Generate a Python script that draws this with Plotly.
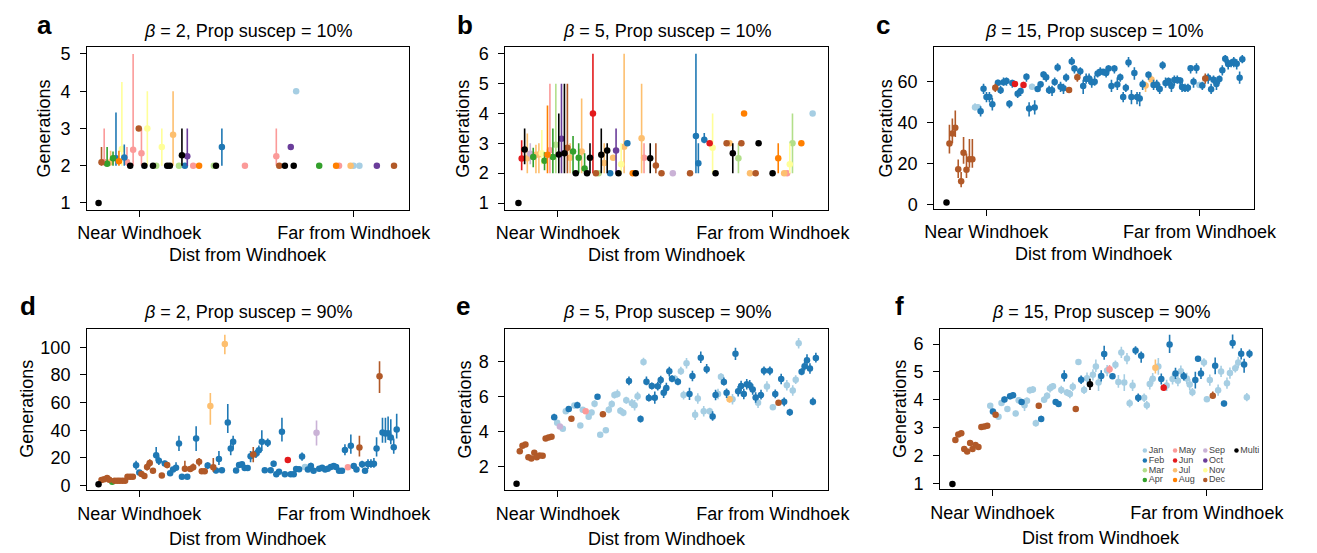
import plotly.graph_objects as go

W, H = 1317, 553
FONT = "Liberation Sans, Arial, Helvetica, sans-serif"

MONTHS = ["Jan", "Feb", "Mar", "Apr", "May", "Jun", "Jul", "Aug", "Sep", "Oct", "Nov", "Dec", "Multi"]
COLORS = ["#A6CEE3", "#1F78B4", "#B2DF8A", "#33A02C", "#FB9A99", "#E31A1C", "#FDBF6F",
          "#FF7F00", "#CAB2D6", "#6A3D9A", "#FFFF99", "#B15928", "#000000"]

TITLES = ["<i>β</i> = 2, Prop suscep = 10%", "<i>β</i> = 5, Prop suscep = 10%", "<i>β</i> = 15, Prop suscep = 10%",
          "<i>β</i> = 2, Prop suscep = 90%", "<i>β</i> = 5, Prop suscep = 90%", "<i>β</i> = 15, Prop suscep = 90%"]
LETTERS = ["a", "b", "c", "d", "e", "f"]
XTICKS = [20, 100]
XTICKTEXT = ["Near Windhoek", "Far from Windhoek"]
YTICKS = [[1, 2, 3, 4, 5], [1, 2, 3, 4, 5, 6], [0, 20, 40, 60], [0, 20, 40, 60, 80, 100], [2, 4, 6, 8], [1, 2, 3, 4, 5, 6]]

# ---------------- panel a ----------------
a_x = [4.8, 5.9, 6.9, 8.0, 9.3, 10.2, 11.3, 12.4, 13.5, 14.4,
       15.4, 16.6, 17.7, 19.8, 20.8, 21.9, 23.0, 25.1, 26.3, 28.4,
       30.4, 31.4, 32.6, 34.8, 35.9, 37.0, 37.9, 40.1, 42.3, 47.8,
       48.6, 50.8, 59.4, 71.1, 72.2, 74.3, 76.5, 77.6, 78.5, 87.1,
       93.4, 94.5, 98.8, 99.9, 102.1, 108.6, 115.0]
a_y = [1.0, 2.09, 2.1, 2.05, 2.1, 2.2, 2.2, 2.12, 2.45, 2.22,
       2.1, 2.0, 2.43, 3.0, 2.33, 2.0, 3.0, 2.0, 2.0, 2.5,
       2.0, 2.0, 2.83, 2.0, 2.28, 2.0, 2.25, 2.0, 2.0, 2.0,
       2.0, 2.5, 2.0, 2.25, 2.0, 2.0, 2.5, 2.0, 4.0, 2.0,
       2.0, 2.0, 2.0, 2.0, 2.0, 2.0, 2.0]
a_lo = [1.0, 2.0, 2.0, 2.0, 2.0, 2.0, 2.0, 2.0, 2.0, 2.0,
        2.0, 2.0, 2.0, 3.0, 2.0, 2.0, 2.0, 2.0, 2.0, 2.0,
        2.0, 2.0, 2.0, 2.0, 2.0, 2.0, 2.0, 2.0, 2.0, 2.0,
        2.0, 2.0, 2.0, 2.0, 2.0, 2.0, 2.5, 2.0, 4.0, 2.0,
        2.0, 2.0, 2.0, 2.0, 2.0, 2.0, 2.0]
a_hi = [1.0, 2.5, 3.0, 2.5, 2.4, 2.38, 3.43, 2.4, 4.25, 2.57,
        2.5, 2.0, 5.0, 3.0, 3.0, 2.0, 4.0, 2.0, 2.0, 3.0,
        2.0, 2.0, 4.0, 2.0, 3.0, 2.0, 3.0, 2.0, 2.0, 2.0,
        2.0, 3.0, 2.0, 3.0, 2.0, 2.0, 2.5, 2.0, 4.0, 2.0,
        2.0, 2.0, 2.0, 2.0, 2.0, 2.0, 2.0]
a_m = [13, 12, 5, 4, 7, 4, 2, 8, 11, 2,
       5, 13, 5, 12, 5, 13, 11, 13, 3, 11,
       13, 13, 7, 3, 13, 2, 10, 5, 8, 3,
       13, 2, 5, 5, 12, 13, 10, 13, 1, 4,
       8, 5, 7, 1, 1, 10, 12]

# ---------------- panel b ----------------
b_x = [5.4, 6.6, 7.7, 8.7, 9.8, 10.9, 11.9, 13.0, 14.1, 15.1,
       16.2, 17.1, 18.2, 19.3, 20.4, 21.4, 22.5, 23.6, 24.6, 25.7,
       26.7, 27.8, 28.9, 30.0, 30.9, 32.0, 33.1, 34.2, 35.2, 36.2,
       37.3, 38.4, 39.5, 40.6, 41.7, 42.6, 43.6, 44.7, 45.9, 47.9,
       49.0, 51.2, 52.1, 54.4, 56.5, 58.6, 62.8, 69.2, 71.4, 72.3,
       74.5, 76.5, 77.6, 78.7, 82.8, 83.9, 85.1, 87.2, 88.3, 89.3,
       91.5, 93.6, 94.7, 99.9, 102.0, 104.2, 105.3, 106.3, 107.3, 110.6,
       114.8]
b_y = [1.0, 2.49, 2.79, 2.5, 2.65, 2.54, 2.62, 2.63, 2.67, 2.42,
       2.62, 2.77, 2.54, 2.95, 2.63, 3.15, 2.67, 2.85, 2.52, 2.73,
       2.0, 2.52, 2.73, 2.16, 2.0, 2.52, 4.0, 2.0, 2.0, 2.62,
       2.34, 2.76, 2.0, 2.52, 2.76, 2.0, 2.3, 2.89, 3.0, 2.0,
       2.0, 3.17, 2.52, 2.5, 2.26, 2.0, 2.0, 2.0, 3.25, 2.33,
       3.12, 3.0, 2.85, 2.0, 3.0, 3.0, 2.67, 2.5, 3.0, 4.0,
       2.0, 2.0, 3.0, 2.0, 2.5, 2.0, 2.0, 2.3, 3.0, 3.0,
       4.0]
b_lo = [1.0, 2.1, 2.3, 2.0, 2.3, 2.2, 2.0, 2.0, 2.3, 2.1,
        2.0, 2.0, 2.0, 2.0, 2.0, 2.0, 2.0, 2.0, 2.0, 2.0,
        2.0, 2.0, 2.0, 2.0, 2.0, 2.0, 2.0, 2.0, 2.0, 2.0,
        2.0, 2.0, 2.0, 2.52, 2.0, 2.0, 2.0, 2.0, 3.0, 2.0,
        2.0, 2.0, 2.0, 2.0, 2.0, 2.0, 2.0, 2.0, 2.0, 2.0,
        3.0, 3.0, 2.0, 2.0, 3.0, 3.0, 2.0, 2.0, 3.0, 4.0,
        2.0, 2.0, 3.0, 2.0, 2.0, 2.0, 2.0, 2.0, 2.0, 3.0,
        4.0]
b_hi = [1.0, 3.1, 3.5, 3.33, 3.0, 2.85, 2.95, 3.0, 3.45, 2.7,
        4.27, 5.0, 3.5, 5.0, 4.0, 5.0, 5.0, 5.0, 3.0, 3.25,
        2.0, 3.0, 4.5, 2.67, 2.0, 3.0, 6.0, 2.0, 2.0, 3.5,
        3.0, 3.0, 2.0, 2.52, 3.5, 2.0, 3.0, 6.0, 3.0, 2.0,
        2.0, 5.0, 3.0, 3.0, 3.0, 2.0, 2.0, 2.0, 6.0, 3.0,
        3.35, 3.0, 4.0, 2.0, 3.0, 3.0, 3.0, 3.0, 3.0, 4.0,
        2.0, 2.0, 3.0, 2.0, 3.0, 2.0, 2.0, 3.0, 4.0, 3.0,
        4.0]
b_m = [13, 6, 13, 7, 9, 4, 7, 7, 11, 4,
       8, 5, 4, 3, 13, 10, 13, 12, 7, 4,
       13, 4, 7, 4, 13, 13, 6, 12, 3, 13,
       7, 13, 2, 7, 10, 13, 11, 7, 2, 8,
       13, 7, 5, 13, 12, 12, 9, 12, 2, 2,
       2, 6, 11, 13, 12, 7, 13, 3, 12, 8,
       7, 12, 13, 13, 8, 7, 5, 11, 3, 8,
       1]

# ---------------- panel c ----------------
c_x = [5.1, 6.2, 7.3, 8.4, 9.5, 10.6, 11.5, 12.6, 13.7, 14.8,
       15.8, 16.9, 17.9, 19.0, 20.1, 21.2, 22.3, 23.4, 24.4, 25.4,
       26.5, 27.6, 28.7, 29.8, 30.8, 31.8, 32.9, 34.0, 35.1, 36.1,
       37.2, 38.2, 39.3, 40.4, 41.5, 42.5, 43.6, 44.7, 45.7, 46.8,
       47.9, 49.0, 50.0, 51.1, 52.1, 53.1, 54.2, 55.3, 56.4, 57.5,
       58.6, 59.6, 60.7, 61.8, 62.8, 63.9, 65.0, 65.9, 67.0, 68.1,
       69.2, 70.3, 71.4, 72.4, 73.4, 74.5, 75.6, 76.6, 77.6, 78.7,
       79.8, 80.9, 82.0, 82.8, 84.0, 85.1, 86.2, 87.3, 88.4, 89.5,
       90.6, 91.7, 92.8, 93.5, 94.6, 95.7, 96.7, 97.8, 98.9, 100.0,
       101.1, 102.2, 103.3, 104.4, 105.3, 106.4, 107.5, 108.6, 109.7, 110.8,
       111.9, 112.9, 114.0, 115.1, 116.1]
c_y = [1.1, 29.9, 34.7, 37.6, 17.3, 11.4, 25.3, 17.1, 22.2, 22.2,
       47.5, 47.5, 45.6, 56.6, 52.6, 52.6, 49.0, 57.0, 59.5, 55.8,
       59.7, 60.3, 49.3, 59.4, 58.9, 54.1, 55.5, 58.4, 62.4, 46.9,
       57.6, 47.4, 56.5, 58.7, 63.5, 62.2, 55.8, 55.8, 59.8, 66.9,
       57.6, 56.8, 62.1, 56.0, 69.9, 66.4, 62.2, 65.1, 57.9, 61.3,
       61.6, 59.7, 60.0, 64.0, 64.8, 64.8, 64.3, 66.4, 57.9, 66.4,
       58.6, 62.2, 52.5, 57.1, 69.4, 52.6, 64.3, 52.6, 51.8, 58.7,
       58.1, 63.4, 61.1, 58.4, 58.6, 56.5, 68.0, 59.4, 60.3, 57.9,
       60.8, 60.8, 60.6, 57.4, 56.8, 57.0, 66.6, 60.0, 66.7, 58.4,
       58.1, 61.6, 61.9, 56.3, 61.0, 58.9, 61.3, 65.6, 71.2, 68.6,
       69.1, 69.9, 68.8, 61.9, 70.9]
c_lo = [1.1, 25, 30, 33, 13, 8.5, 20, 13, 18, 18,
        46, 46, 43, 54, 50, 50, 46, 55, 58, 54,
        58, 58, 47, 57, 57.5, 52, 53, 57, 60, 43,
        56, 44, 55, 57, 61, 60, 54, 53, 58, 65,
        55, 54, 60, 55, 68, 64, 60, 63, 54, 59,
        59, 57, 58, 62, 63, 63, 62, 64, 55, 64,
        56, 60, 50, 55, 67, 49, 61, 49, 48, 56,
        55, 61, 59, 56, 56, 54, 66, 57, 58, 55,
        58, 59, 58, 55, 55, 55, 64, 57, 64, 57,
        56, 59, 59, 54, 59, 56, 59, 63, 69, 66,
        67, 67, 66, 59, 69]
c_hi = [1.1, 39, 42, 46, 22, 16, 33, 25, 32, 32,
        49.5, 49, 48, 59, 55, 55, 52, 59, 61, 58,
        62, 62, 51, 61, 60, 56, 57, 60, 64, 50,
        59, 51, 58, 60, 65, 64, 58, 58, 62, 69,
        60, 59, 64, 57, 72, 68, 64, 67, 61, 64,
        64, 62, 63, 66, 67, 66, 66, 68, 61, 68,
        62, 64, 55, 59, 72, 56, 67, 55, 55, 61,
        60, 65, 63, 61, 61, 59, 70, 62, 62, 60,
        63, 63, 62, 60, 59, 59, 68, 62, 69, 60,
        60, 64, 64, 59, 63, 61, 63, 68, 73, 71,
        71, 72, 71, 65, 73]
c_m = [13, 12, 12, 12, 12, 12, 12, 12, 12, 12,
       1, 1, 2, 2, 2, 2, 2, 12, 2, 2,
       2, 2, 2, 2, 6, 2, 2, 6, 2, 2,
       1, 2, 2, 2, 2, 2, 2, 2, 2, 2,
       2, 2, 2, 12, 2, 2, 12, 2, 2, 2,
       2, 2, 2, 2, 2, 2, 2, 2, 2, 2,
       2, 2, 2, 2, 2, 2, 2, 2, 2, 2,
       7, 2, 7, 2, 2, 2, 2, 2, 2, 2,
       2, 2, 2, 2, 2, 2, 2, 2, 2, 1,
       2, 12, 2, 2, 2, 2, 2, 2, 2, 2,
       2, 2, 2, 2, 2]

# ---------------- panel d ----------------
d_x = [4.8, 5.9, 6.9, 8.0, 8.8, 9.9, 10.8, 11.8, 12.7, 13.7,
       14.7, 15.6, 16.6, 17.6, 18.8, 20.0, 20.8, 21.9, 22.9, 23.9,
       25.1, 26.3, 27.3, 28.4, 29.5, 30.4, 31.5, 32.6, 33.7, 34.8,
       35.9, 37.0, 37.9, 39.0, 40.1, 41.2, 42.3, 43.3, 44.4, 45.5,
       46.5, 47.6, 48.6, 49.7, 50.8, 51.9, 53.0, 54.1, 55.0, 56.1,
       57.2, 58.3, 59.3, 60.4, 61.5, 62.5, 63.5, 64.6, 65.7, 66.8,
       67.9, 69.0, 70.1, 71.1, 72.1, 73.2, 74.3, 75.4, 76.5, 77.6,
       78.5, 79.6, 80.7, 81.8, 82.9, 84.0, 85.0, 86.1, 87.1, 88.2,
       89.3, 90.3, 91.4, 92.5, 93.4, 94.5, 95.6, 96.7, 97.8, 98.9,
       100.0, 101.0, 102.1, 103.1, 104.2, 105.3, 106.4, 107.5, 108.5, 109.6,
       110.7, 111.8, 112.8, 113.8, 114.9, 116.0]
d_y = [1.0, 4.0, 4.7, 5.5, 4.3, 2.8, 3.6, 3.6, 3.6, 3.6,
       3.6, 6.4, 6.4, 6.4, 14.7, 9.5, 8.5, 6.9, 13.5, 16.4,
       10.7, 22.0, 18.0, 7.3, 16.0, 15.0, 9.0, 11.6, 13.0, 30.5,
       6.4, 12.3, 6.4, 12.0, 13.3, 34.0, 17.3, 10.4, 10.4, 14.5,
       57.6, 13.3, 10.9, 19.2, 11.1, 102.4, 45.7, 26.8, 31.8, 10.9,
       14.9, 15.4, 12.8, 12.8, 21.3, 22.5, 23.0, 25.6, 31.8, 11.1,
       31.0, 11.1, 15.9, 8.3, 10.0, 38.9, 8.3, 18.5, 8.3, 8.3,
       12.1, 11.8, 21.1, 13.5, 11.6, 14.2, 10.7, 38.2, 12.3, 13.0,
       11.6, 12.3, 13.5, 14.2, 13.5, 10.7, 10.7, 25.8, 13.3, 28.9,
       14.2, 11.6, 27.5, 15.4, 10.7, 15.6, 15.6, 15.9, 26.8, 79.1,
       38.4, 37.7, 37.9, 34.8, 27.7, 40.5]
d_lo = [1.0, 3.5, 4.0, 4.5, 3.5, 2.3, 3.0, 3.0, 3.0, 3.0,
        3.0, 5.0, 5.0, 5.0, 11.5, 8.0, 7.0, 5.5, 11.0, 13.5,
        9.0, 18.0, 15.0, 6.0, 13.5, 12.5, 7.5, 10.0, 11.0, 25.0,
        5.5, 10.0, 5.5, 10.0, 11.0, 25.0, 14.0, 9.0, 9.0, 12.0,
        44.0, 10.0, 9.0, 15.0, 9.5, 95.0, 38.0, 22.0, 27.0, 9.5,
        13.0, 13.0, 11.0, 11.0, 17.0, 17.0, 20.0, 22.0, 25.0, 9.5,
        28.0, 9.5, 13.5, 7.0, 8.5, 32.0, 7.0, 17.0, 7.0, 7.0,
        10.5, 10.5, 18.0, 12.0, 10.0, 12.0, 9.5, 29.0, 10.5, 11.0,
        10.0, 10.5, 12.0, 12.5, 12.0, 9.5, 9.5, 22.0, 12.0, 23.0,
        12.0, 10.0, 21.0, 13.0, 9.5, 12.0, 13.0, 13.0, 21.0, 67.0,
        31.0, 31.0, 33.0, 30.0, 23.0, 34.0]
d_hi = [1.0, 4.5, 5.5, 6.5, 5.0, 3.3, 4.2, 4.2, 4.2, 4.2,
        4.2, 8.5, 8.0, 8.0, 18.0, 11.0, 10.0, 8.5, 16.5, 19.0,
        12.5, 28.0, 21.0, 8.5, 18.0, 17.0, 10.5, 13.5, 17.0, 36.0,
        7.5, 18.0, 7.5, 14.0, 16.0, 43.0, 20.0, 12.0, 12.0, 17.0,
        67.0, 20.0, 12.5, 25.0, 13.0, 109.0, 59.0, 31.0, 36.0, 12.5,
        17.0, 17.0, 14.5, 14.5, 25.0, 28.0, 26.0, 29.0, 40.0, 12.5,
        34.0, 12.5, 18.0, 9.5, 11.5, 49.0, 9.5, 20.0, 9.5, 9.5,
        13.5, 13.0, 24.0, 15.0, 13.0, 16.5, 12.0, 47.0, 14.0, 14.5,
        13.0, 14.0, 15.0, 16.0, 15.0, 12.0, 12.0, 30.0, 14.5, 37.0,
        16.0, 13.0, 36.0, 18.0, 12.0, 19.0, 19.0, 20.0, 35.0, 90.0,
        49.0, 49.0, 50.0, 48.0, 34.0, 52.0]
d_m = [13, 12, 12, 12, 12, 4, 12, 12, 12, 12,
       12, 12, 12, 12, 2, 2, 12, 12, 12, 12,
       12, 2, 2, 12, 2, 12, 2, 2, 2, 2,
       2, 12, 2, 12, 12, 2, 12, 12, 12, 2,
       7, 12, 2, 2, 2, 7, 2, 2, 2, 2,
       2, 2, 2, 2, 2, 12, 2, 2, 2, 2,
       2, 2, 2, 2, 2, 2, 2, 6, 2, 2,
       2, 2, 2, 1, 2, 2, 2, 9, 2, 2,
       2, 2, 2, 2, 2, 2, 2, 2, 5, 2,
       2, 2, 12, 2, 2, 2, 2, 2, 2, 12,
       2, 2, 2, 2, 2, 2]

# ---------------- panel e ----------------
e_x = [4.7, 5.9, 6.9, 8.0, 9.1, 10.2, 11.3, 12.2, 13.3, 14.4,
       15.5, 16.6, 17.7, 18.7, 19.8, 20.8, 21.9, 23.0, 24.1, 25.1,
       26.2, 27.3, 28.4, 29.3, 30.4, 31.5, 32.6, 33.7, 34.8, 35.8,
       36.8, 37.9, 39.0, 40.1, 41.1, 42.2, 43.3, 44.4, 45.5, 46.5,
       47.6, 48.6, 49.7, 50.8, 51.9, 53.0, 53.9, 55.0, 56.1, 57.2,
       58.3, 59.4, 60.4, 61.5, 62.5, 63.6, 64.7, 65.8, 66.8, 67.9,
       69.0, 70.1, 71.1, 72.1, 73.2, 74.3, 75.4, 76.5, 77.6, 78.7,
       79.6, 80.7, 81.8, 82.8, 83.9, 85.0, 86.1, 87.1, 88.2, 89.2,
       90.3, 91.4, 92.5, 93.6, 94.5, 95.6, 96.7, 97.8, 98.9, 100.0,
       100.9, 102.1, 103.1, 104.2, 105.2, 106.3, 107.4, 108.5, 109.6, 110.7,
       111.8, 112.7, 113.8, 114.9, 116.0]
e_y = [1.0, 2.86, 3.18, 3.24, 2.52, 2.45, 2.77, 2.52, 2.62, 2.6,
       3.59, 3.65, 3.69, 4.81, 4.49, 4.27, 4.14, 5.15, 5.28, 4.72,
       5.47, 5.49, 4.33, 5.24, 5.15, 4.83, 5.08, 5.58, 5.98, 3.8,
       4.98, 4.06, 5.24, 5.56, 6.07, 6.14, 5.17, 5.06, 5.77, 6.88,
       5.6, 5.49, 6.01, 4.7, 7.96, 6.84, 5.9, 6.59, 5.92, 6.58,
       6.93, 6.2, 6.48, 7.44, 7.0, 7.0, 6.84, 7.44, 6.07, 7.89,
       6.14, 7.16, 4.94, 5.88, 8.21, 5.15, 7.55, 5.15, 4.85, 6.07,
       6.13, 7.12, 6.82, 6.2, 5.83, 5.84, 8.43, 6.29, 6.59, 6.13,
       6.69, 6.63, 6.39, 5.94, 5.64, 6.07, 7.46, 6.56, 7.46, 5.38,
       6.14, 5.64, 6.99, 5.69, 6.63, 5.09, 6.33, 6.95, 9.03, 7.4,
       7.72, 8.06, 7.59, 5.69, 8.19]
e_dn = [0, 0.08, 0.1, 0.1, 0.08, 0.08, 0.1, 0.08, 0.08, 0.08,
        0.1, 0.1, 0.1, 0.15, 0.1, 0.08, 0.1, 0.12, 0.12, 0.15,
        0.15, 0.15, 0.12, 0.15, 0.1, 0.15, 0.15, 0.2, 0.15, 0.12,
        0.15, 0.12, 0.2, 0.2, 0.2, 0.2, 0.2, 0.2, 0.2, 0.25,
        0.25, 0.3, 0.25, 0.2, 0.2, 0.2, 0.2, 0.2, 0.35, 0.25,
        0.25, 0.3, 0.3, 0.3, 0.2, 0.2, 0.2, 0.2, 0.25, 0.3,
        0.35, 0.3, 0.3, 0.3, 0.3, 0.3, 0.25, 0.2, 0.25, 0.3,
        0.3, 0.2, 0.2, 0.3, 0.2, 0.3, 0.35, 0.3, 0.3, 0.3,
        0.3, 0.25, 0.3, 0.3, 0.3, 0.25, 0.25, 0.3, 0.25, 0.15,
        0.25, 0.15, 0.3, 0.25, 0.3, 0.2, 0.3, 0.25, 0.3, 0.2,
        0.25, 0.35, 0.3, 0.2, 0.25]
e_up = [0, 0.1, 0.1, 0.12, 0.1, 0.08, 0.1, 0.1, 0.1, 0.1,
        0.12, 0.1, 0.12, 0.2, 0.12, 0.08, 0.1, 0.12, 0.15, 0.15,
        0.12, 0.2, 0.12, 0.15, 0.1, 0.2, 0.15, 0.2, 0.15, 0.15,
        0.15, 0.12, 0.2, 0.2, 0.2, 0.25, 0.2, 0.2, 0.2, 0.25,
        0.25, 0.3, 0.25, 0.2, 0.25, 0.3, 0.25, 0.2, 0.35, 0.25,
        0.25, 0.3, 0.3, 0.25, 0.2, 0.2, 0.2, 0.25, 0.25, 0.3,
        0.35, 0.3, 0.3, 0.3, 0.35, 0.3, 0.3, 0.2, 0.3, 0.3,
        0.3, 0.2, 0.25, 0.25, 0.2, 0.3, 0.35, 0.3, 0.3, 0.3,
        0.3, 0.3, 0.3, 0.3, 0.3, 0.3, 0.25, 0.3, 0.25, 0.15,
        0.25, 0.15, 0.3, 0.25, 0.3, 0.2, 0.3, 0.25, 0.3, 0.2,
        0.25, 0.35, 0.3, 0.25, 0.3]
e_m = [13, 12, 12, 12, 12, 12, 12, 12, 12, 12,
       12, 12, 12, 2, 1, 9, 1, 1, 2, 12,
       1, 2, 1, 1, 5, 1, 1, 1, 2, 1,
       12, 1, 1, 1, 1, 1, 1, 1, 1, 2,
       1, 1, 1, 2, 1, 2, 2, 2, 2, 2,
       2, 2, 2, 2, 2, 1, 2, 1, 1, 1,
       2, 2, 1, 1, 2, 1, 2, 1, 2, 2,
       1, 1, 2, 2, 7, 1, 2, 2, 2, 2,
       2, 2, 2, 2, 1, 2, 2, 1, 2, 1,
       2, 12, 2, 2, 1, 2, 1, 1, 1, 2,
       2, 2, 2, 2, 2]

# ---------------- panel f ----------------
f_x = [5.1, 6.2, 7.3, 8.4, 9.5, 10.6, 11.7, 12.6, 13.7, 14.8,
       15.9, 17.0, 18.1, 19.2, 20.2, 21.2, 22.3, 23.4, 24.5, 25.6,
       26.6, 27.7, 28.7, 29.8, 30.9, 32.0, 32.9, 34.0, 35.1, 36.2,
       37.3, 38.2, 39.3, 40.4, 41.5, 42.6, 43.6, 44.7, 45.7, 46.8,
       47.8, 48.9, 50.0, 51.1, 52.1, 53.1, 54.2, 55.3, 56.4, 57.5,
       58.6, 59.6, 60.6, 61.7, 62.8, 63.7, 64.8, 65.9, 67.0, 68.1,
       69.2, 70.2, 71.2, 72.3, 73.4, 74.4, 75.5, 76.6, 77.6, 78.7,
       79.8, 80.8, 81.9, 83.0, 83.9, 85.0, 86.1, 87.2, 88.3, 89.2,
       90.3, 91.4, 92.5, 93.6, 94.6, 95.7, 96.7, 97.8, 98.9, 100.0,
       101.1, 102.2, 103.1, 104.2, 105.3, 106.4, 107.5, 108.6, 109.6, 110.6,
       111.7, 112.8, 113.9, 114.9, 115.9]
f_y = [1.0, 2.57, 2.77, 2.81, 2.25, 2.16, 2.46, 2.25, 2.39, 2.32,
       3.03, 3.05, 3.08, 3.79, 3.59, 3.47, 3.4, 3.89, 4.02, 3.68,
       4.13, 4.17, 3.52, 3.99, 3.93, 3.81, 3.97, 4.35, 4.37, 3.17,
       3.79, 3.32, 4.01, 4.15, 4.42, 4.49, 3.93, 3.86, 4.36, 4.86,
       4.27, 4.21, 4.47, 3.68, 5.36, 4.72, 4.36, 4.78, 4.56, 4.9,
       5.2, 4.62, 4.86, 5.64, 5.05, 5.1, 4.85, 5.26, 4.64, 5.7,
       4.62, 5.48, 3.88, 4.52, 5.77, 4.08, 5.58, 4.08, 3.81, 4.57,
       4.76, 5.15, 5.2, 4.75, 4.44, 4.52, 5.98, 4.75, 4.95, 4.69,
       5.03, 4.85, 4.77, 4.55, 4.28, 4.71, 5.47, 4.95, 5.34, 4.03,
       4.71, 4.15, 5.22, 4.35, 5.02, 3.87, 4.6, 4.96, 6.04, 5.13,
       5.34, 5.65, 5.27, 4.1, 5.65]
f_dn = [0, 0.07, 0.07, 0.08, 0.06, 0.06, 0.08, 0.06, 0.07, 0.06,
        0.07, 0.07, 0.08, 0.1, 0.1, 0.08, 0.08, 0.1, 0.1, 0.1,
        0.1, 0.1, 0.1, 0.12, 0.1, 0.2, 0.1, 0.12, 0.12, 0.12,
        0.1, 0.1, 0.12, 0.12, 0.15, 0.12, 0.1, 0.1, 0.15, 0.2,
        0.12, 0.15, 0.15, 0.08, 0.1, 0.15, 0.15, 0.2, 0.2, 0.2,
        0.2, 0.3, 0.2, 0.2, 0.2, 0.15, 0.1, 0.15, 0.2, 0.2,
        0.3, 0.2, 0.15, 0.2, 0.15, 0.15, 0.25, 0.15, 0.15, 0.2,
        0.2, 0.2, 0.3, 0.2, 0.12, 0.2, 0.3, 0.2, 0.2, 0.2,
        0.2, 0.15, 0.2, 0.2, 0.15, 0.3, 0.1, 0.2, 0.15, 0.1,
        0.2, 0.1, 0.3, 0.2, 0.2, 0.1, 0.2, 0.2, 0.2, 0.15,
        0.2, 0.2, 0.3, 0.15, 0.15]
f_up = [0, 0.07, 0.08, 0.08, 0.06, 0.06, 0.08, 0.06, 0.07, 0.06,
        0.07, 0.07, 0.08, 0.1, 0.1, 0.08, 0.08, 0.1, 0.1, 0.1,
        0.1, 0.1, 0.1, 0.12, 0.1, 0.15, 0.12, 0.12, 0.12, 0.12,
        0.1, 0.12, 0.12, 0.12, 0.15, 0.12, 0.1, 0.1, 0.15, 0.2,
        0.12, 0.15, 0.15, 0.08, 0.1, 0.15, 0.15, 0.2, 0.2, 0.2,
        0.25, 0.3, 0.2, 0.3, 0.2, 0.15, 0.1, 0.15, 0.25, 0.2,
        0.3, 0.2, 0.15, 0.2, 0.15, 0.15, 0.15, 0.15, 0.15, 0.2,
        0.2, 0.3, 0.3, 0.2, 0.12, 0.2, 0.35, 0.2, 0.2, 0.2,
        0.2, 0.15, 0.2, 0.2, 0.15, 0.3, 0.1, 0.2, 0.15, 0.1,
        0.2, 0.15, 0.3, 0.2, 0.2, 0.1, 0.2, 0.2, 0.3, 0.15,
        0.2, 0.2, 0.2, 0.15, 0.15]
f_m = [13, 12, 12, 12, 12, 12, 12, 12, 12, 12,
       12, 12, 12, 1, 2, 12, 1, 1, 2, 1,
       2, 2, 1, 1, 2, 1, 1, 1, 1, 1,
       12, 2, 1, 1, 1, 1, 2, 2, 1, 2,
       1, 1, 1, 12, 1, 2, 1, 1, 13, 1,
       1, 1, 2, 2, 1, 5, 2, 1, 1, 1,
       1, 1, 1, 1, 2, 2, 2, 1, 1, 1,
       1, 7, 1, 2, 6, 1, 2, 1, 2, 1,
       1, 2, 1, 1, 1, 2, 2, 2, 1, 1,
       1, 12, 2, 1, 1, 2, 1, 1, 2, 1,
       1, 2, 2, 1, 2]

# -------------- assemble --------------
def from_bounds(y, lo, hi):
    return [h - v for v, h in zip(y, hi)], [v - l for v, l in zip(y, lo)]

PANELS = [
    (a_x, a_y) + tuple(from_bounds(a_y, a_lo, a_hi)) + (a_m,),
    (b_x, b_y) + tuple(from_bounds(b_y, b_lo, b_hi)) + (b_m,),
    (c_x, c_y) + tuple(from_bounds(c_y, c_lo, c_hi)) + (c_m,),
    (d_x, d_y) + tuple(from_bounds(d_y, d_lo, d_hi)) + (d_m,),
    (e_x, e_y, e_up, e_dn, e_m),
    (f_x, f_y, f_up, f_dn, f_m),
]

# layout geometry in pixels (left, right, top, bottom) of each plotting box
BOX = [(79, 409, 45, 210), (508, 839, 45, 210), (948, 1276, 45, 209),
       (79, 409, 331, 495), (508, 839, 331, 495), (954, 1284, 331, 494)]
YRANGE = [[0.82, 5.18], [0.78, 6.22], [-1.9, 76.8], [-3.1, 113.5], [0.65, 9.87], [0.82, 6.55]]
XRANGE = [0.5, 120.5]

fig = go.Figure()
DRAW_ORDER = [1, 3, 5, 7, 9, 11, 2, 4, 6, 8, 10, 12, 13]
for p, (xs, ys, up, dn, ms) in enumerate(PANELS):
    ax = "" if p == 0 else str(p + 1)
    for m in DRAW_ORDER:
        idx = [i for i, mm in enumerate(ms) if mm == m]
        if not idx:
            continue
        col = COLORS[m - 1]
        fig.add_trace(go.Scatter(
            x=[xs[i] for i in idx], y=[ys[i] for i in idx],
            mode="markers",
            marker=dict(color=col, size=6.5, line=dict(width=0)),
            error_y=dict(type="data", symmetric=False,
                         array=[up[i] for i in idx], arrayminus=[dn[i] for i in idx],
                         color=col, thickness=1.6, width=0),
            xaxis="x" + ax, yaxis="y" + ax, showlegend=False,
            name=MONTHS[m - 1], hoverinfo="x+y+name"))

axis_common = dict(showline=True, linecolor="black", linewidth=1, mirror=True,
                   ticks="outside", ticklen=6, tickwidth=1, tickcolor="black",
                   showgrid=False, zeroline=False,
                   tickfont=dict(family=FONT, size=18, color="black"))
layout = dict(width=W, height=H, margin=dict(l=0, r=0, t=0, b=0),
              paper_bgcolor="white", plot_bgcolor="rgba(0,0,0,0)",
              font=dict(family=FONT, size=18, color="black"))
annotations = []
YT_X = [35, 465, 898, 18, 467, 913]
XT_OFF = [46, 46, 46, 50, 50, 50]
for p in range(6):
    l, r, t, b = BOX[p]
    ax = "" if p == 0 else str(p + 1)
    layout["xaxis" + ax] = dict(axis_common, domain=[l / W, r / W], range=XRANGE,
                                tickvals=XTICKS, ticktext=XTICKTEXT, anchor="y" + ax,
                                ticklabelstandoff=1)
    layout["yaxis" + ax] = dict(axis_common, domain=[1 - b / H, 1 - t / H], range=YRANGE[p],
                                tickvals=YTICKS[p], anchor="x" + ax, ticklabelstandoff=6)
    cx = (l + r) / 2 / W
    annotations.append(dict(text=TITLES[p], x=cx, y=1 - (t - 17) / H, xref="paper", yref="paper",
                            showarrow=False, xanchor="center", yanchor="middle",
                            font=dict(family=FONT, size=18)))
    annotations.append(dict(text="Dist from Windhoek", x=cx, y=1 - (b + XT_OFF[p]) / H,
                            xref="paper", yref="paper",
                            showarrow=False, xanchor="center", yanchor="middle",
                            font=dict(family=FONT, size=18)))
    annotations.append(dict(text="Generations", x=YT_X[p] / W, y=1 - (t + b) / 2 / H,
                            xref="paper", yref="paper", showarrow=False, textangle=-90,
                            xanchor="center", yanchor="middle", font=dict(family=FONT, size=18)))

LETTER_POS = [(35, 22), (467, 22), (895, 22), (18, 308), (465, 308), (912, 308)]
for p, (lx, ly) in enumerate(LETTER_POS):
    annotations.append(dict(text="<b>%s</b>" % LETTERS[p], x=lx / W, y=1 - ly / H, xref="paper", yref="paper",
                            showarrow=False, xanchor="center", yanchor="middle",
                            font=dict(family=FONT, size=26, color="black")))

# legend (inside panel f), laid out in columns of four on a page-pixel overlay axis
LEG_COL_X = [1164, 1195, 1226, 1258]
LEG_ROW_Y = [455, 465, 475, 485]
leg_x = [LEG_COL_X[i // 4] for i in range(len(MONTHS))]
leg_y = [LEG_ROW_Y[i % 4] for i in range(len(MONTHS))]
fig.add_trace(go.Scatter(x=leg_x, y=leg_y, mode="markers+text", text=MONTHS,
                         textposition="middle right",
                         textfont=dict(family=FONT, size=9, color="#444444"),
                         marker=dict(color=COLORS, size=4.5, line=dict(width=0)),
                         xaxis="x7", yaxis="y7", showlegend=False, hoverinfo="skip"))
layout["xaxis7"] = dict(domain=[0, 1], range=[0, W], visible=False, anchor="y7", fixedrange=True)
layout["yaxis7"] = dict(domain=[0, 1], range=[H, 0], visible=False, anchor="x7", fixedrange=True)
layout["annotations"] = annotations
fig.update_layout(**layout)
fig.write_html("out.html",
               post_script="document.body.style.margin='0';document.body.style.overflow='hidden';")
